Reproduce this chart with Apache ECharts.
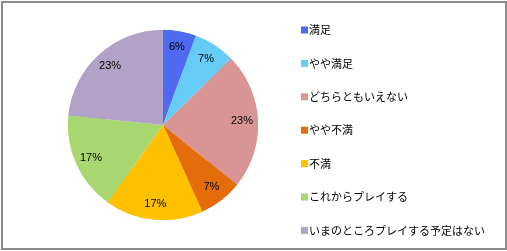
<!DOCTYPE html>
<html><head><meta charset="utf-8">
<script src="https://cdn.jsdelivr.net/npm/echarts@6/dist/echarts.min.js"></script>
<style>
html,body{margin:0;padding:0;background:#fff;}
#wrap{position:absolute;left:0;top:0;width:507px;height:251px;}
#frame{position:absolute;left:1px;top:1px;width:502px;height:245px;border:2px solid #8c8c8c;box-sizing:content-box;}
#chart{position:absolute;left:0;top:0;width:507px;height:251px;}
</style></head>
<body><div id="wrap"><div id="frame"></div><div id="chart"></div></div>
<script>
const categories = ['満足','やや満足','どちらともいえない','やや不満','不満','これからプレイする','いまのところプレイする予定はない'];
const values = [5.6, 7.1, 23.1, 7.4, 16.7, 16.7, 23.4];
const labels = ['6%','7%','23%','7%','17%','17%','23%'];
const colors = ['#4F6AF0','#66CCF5','#D99594','#E46C0A','#FFC000','#A8D770','#B3A2C8'];

const data = categories.map((c,i)=>({name:c, value:values[i], itemStyle:{color:colors[i]}}));
const chart = echarts.init(document.getElementById('chart'), null, {renderer:'canvas'});
chart.setOption({
  animation:false,
  legend:{
    orient:'vertical', left:296, top:18,
    icon:'rect', itemWidth:7, itemHeight:7, itemGap:19.4,
    textStyle:{fontFamily:'"Noto Sans CJK JP"', fontSize:11, color:'#000', lineHeight:14, padding:[0,0,0,-4]},
    data:categories, selectedMode:false
  },
  series:[
    {type:'pie', center:[163,125], radius:[0,95], startAngle:90, clockwise:true,
     label:{show:false}, labelLine:{show:false}, silent:true, data:data},
    {type:'pie', center:[163,125], radius:[57,95], startAngle:90, clockwise:true, silent:true,
     label:{show:true, position:'inside', fontFamily:'"Liberation Sans"', fontSize:11, color:'#000',
       formatter:p=>labels[p.dataIndex]},
     labelLine:{show:false}, data:data}
  ]
});
</script></body></html>
